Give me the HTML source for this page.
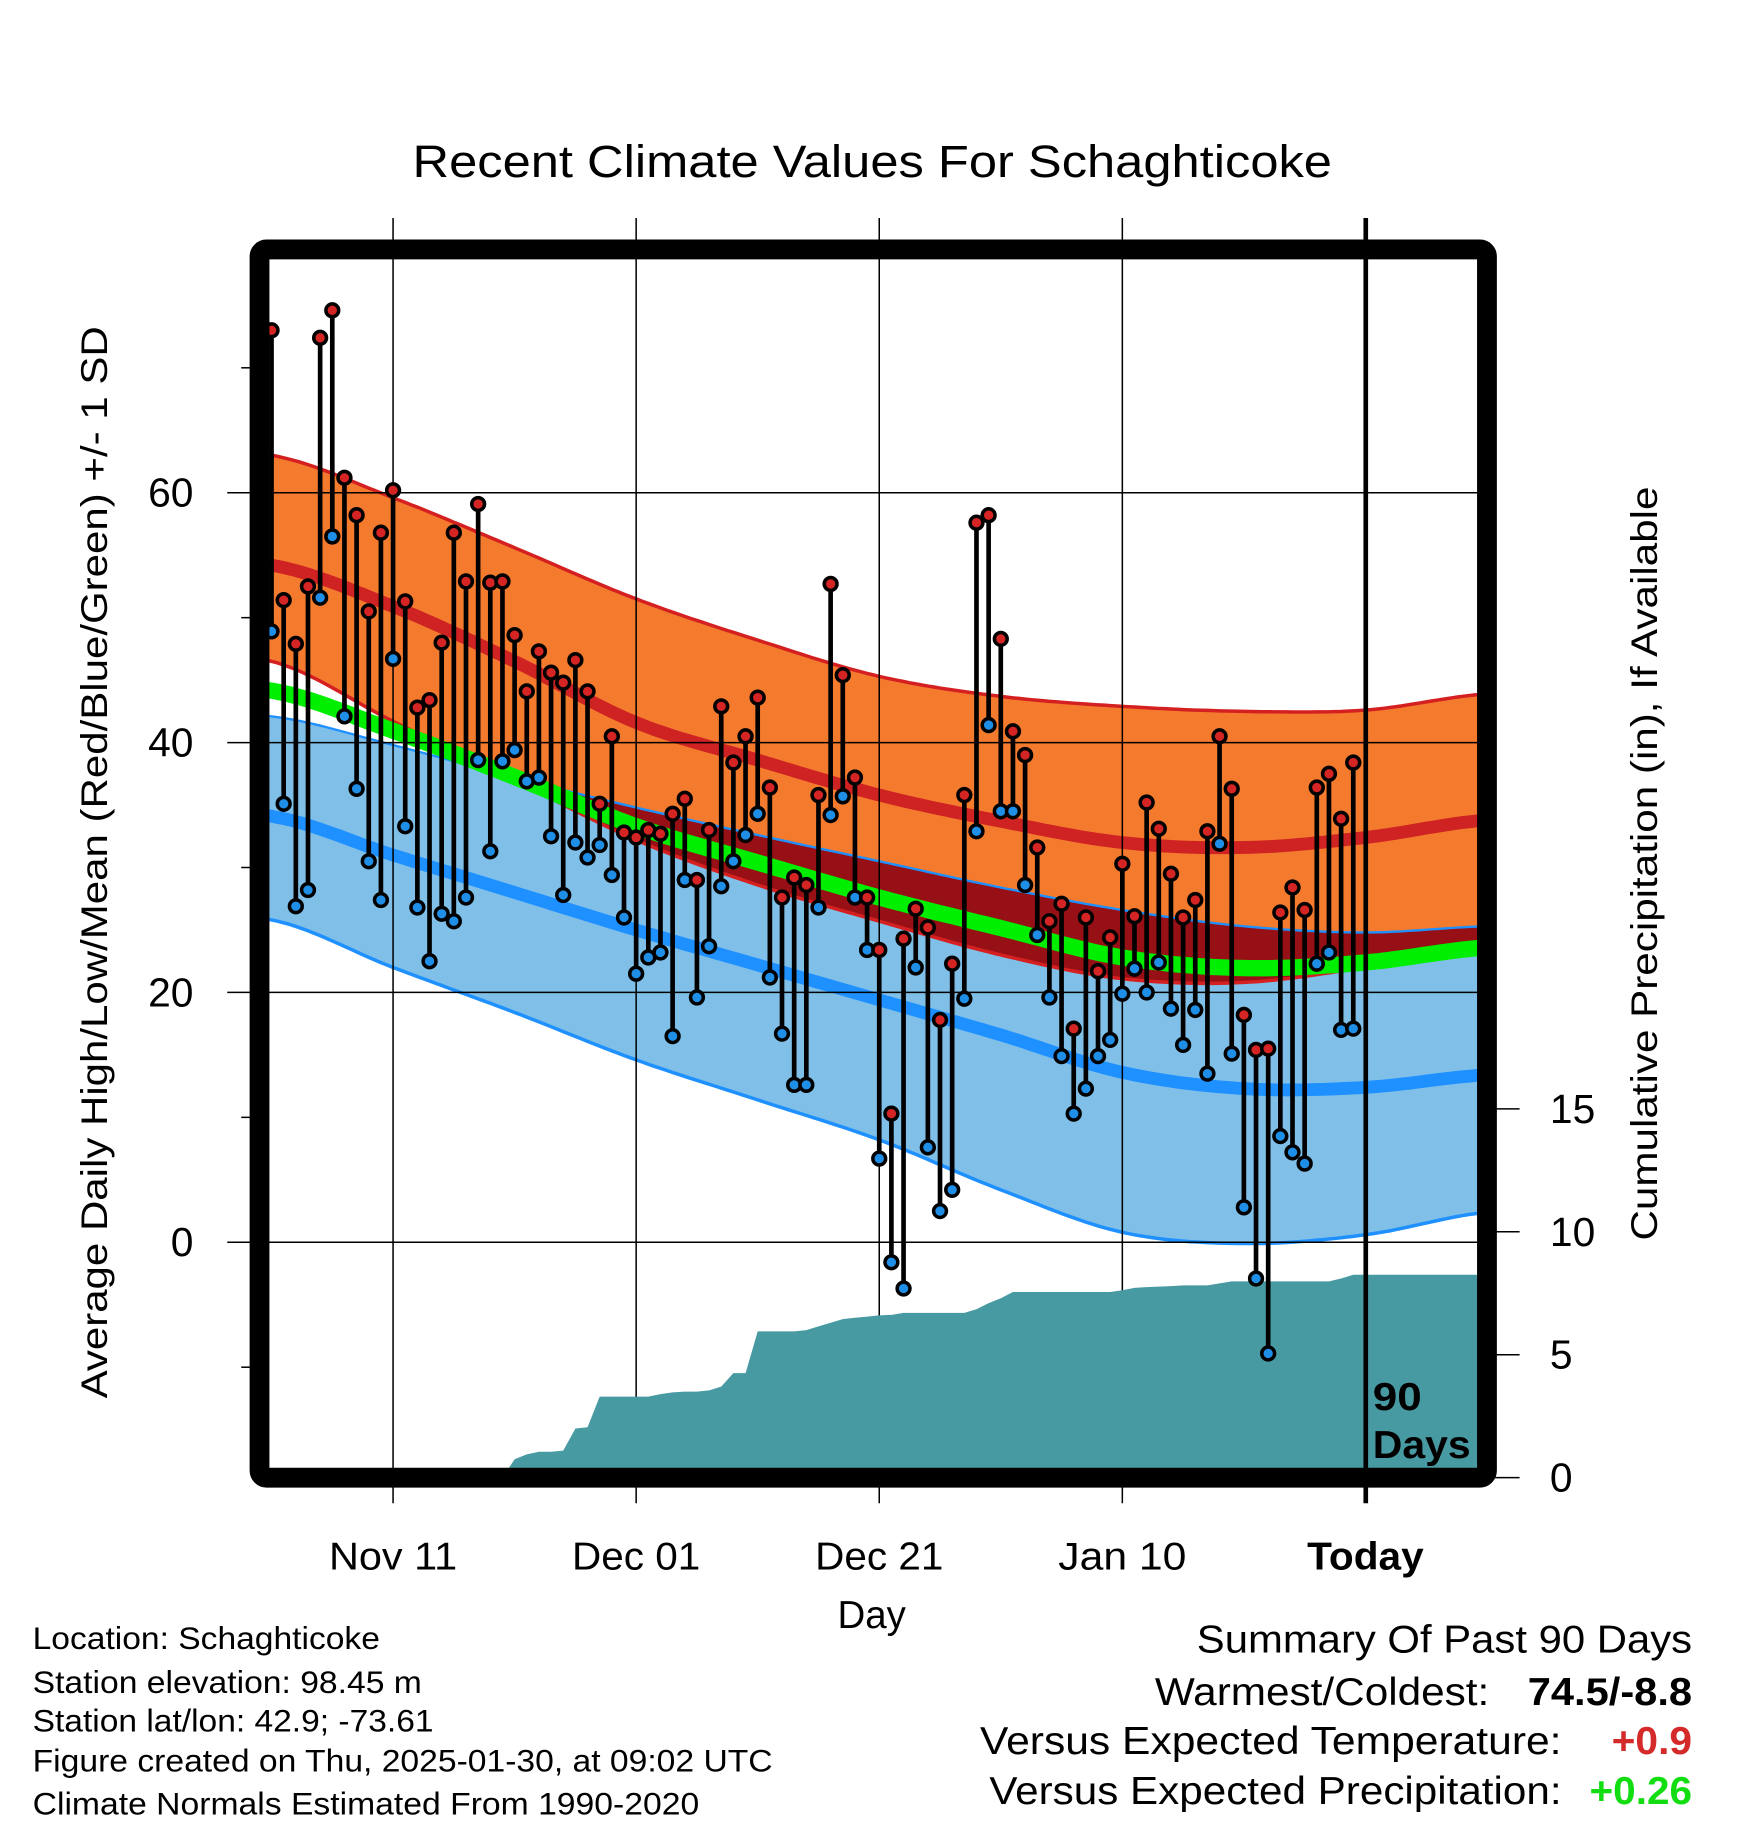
<!DOCTYPE html>
<html><head><meta charset="utf-8"><title>Recent Climate Values For Schaghticoke</title>
<style>html,body{margin:0;padding:0;background:#fff;}svg{display:block;font-family:"Liberation Sans",Arial,sans-serif;}</style>
</head><body>
<svg id="chart" xmlns="http://www.w3.org/2000/svg" width="1748" height="1828" viewBox="0 0 1500 1568.6">
<defs><clipPath id="plotclip"><rect x="231" y="222" width="1038" height="1040"/></clipPath></defs>
<rect x="0" y="0" width="1500" height="1568.6" fill="#fff"/>
<text x="354" y="152" font-size="39" textLength="789" lengthAdjust="spacingAndGlyphs">Recent Climate Values For Schaghticoke</text>
<g id="bands" clip-path="url(#plotclip)"></g>
<g id="grid"></g>
<g id="precip" clip-path="url(#plotclip)"></g>
<g id="marks"></g>
<rect x="222.7" y="214" width="1053.3" height="1054" rx="6" fill="none" stroke="#000" stroke-width="17"/>
<line x1="1172" y1="187" x2="1172" y2="1290" stroke="#000" stroke-width="4"/>
<text x="1178" y="1210" font-size="33" font-weight="bold" textLength="42" lengthAdjust="spacingAndGlyphs">90</text>
<text x="1178" y="1251" font-size="33" font-weight="bold" textLength="84" lengthAdjust="spacingAndGlyphs">Days</text>
<g id="ticklabels"></g>
<text transform="translate(92,740) rotate(-90)" font-size="32" text-anchor="middle" textLength="920" lengthAdjust="spacingAndGlyphs">Average Daily High/Low/Mean (Red/Blue/Green) +/- 1 SD</text>
<text transform="translate(1422,741) rotate(-90)" font-size="32" text-anchor="middle" textLength="647" lengthAdjust="spacingAndGlyphs">Cumulative Precipitation (in), If Available</text>
<text x="748" y="1397" font-size="33" text-anchor="middle">Day</text>
<g font-size="27">
<text x="28" y="1415" textLength="298" lengthAdjust="spacingAndGlyphs">Location: Schaghticoke</text>
<text x="28" y="1453" textLength="334" lengthAdjust="spacingAndGlyphs">Station elevation: 98.45 m</text>
<text x="28" y="1486" textLength="344" lengthAdjust="spacingAndGlyphs">Station lat/lon: 42.9; -73.61</text>
<text x="28" y="1520" textLength="635" lengthAdjust="spacingAndGlyphs">Figure created on Thu, 2025-01-30, at 09:02 UTC</text>
<text x="28" y="1557" textLength="572" lengthAdjust="spacingAndGlyphs">Climate Normals Estimated From 1990-2020</text>
</g>
<g font-size="33">
<text x="1027" y="1418" textLength="425" lengthAdjust="spacingAndGlyphs">Summary Of Past 90 Days</text>
<text x="991" y="1463" textLength="287" lengthAdjust="spacingAndGlyphs">Warmest/Coldest:</text>
<text x="1311" y="1463" font-weight="bold" textLength="141" lengthAdjust="spacingAndGlyphs">74.5/-8.8</text>
<text x="841" y="1505" textLength="499" lengthAdjust="spacingAndGlyphs">Versus Expected Temperature:</text>
<text x="1383" y="1505" font-weight="bold" fill="#d42a2a" textLength="69" lengthAdjust="spacingAndGlyphs">+0.9</text>
<text x="849" y="1548" textLength="491" lengthAdjust="spacingAndGlyphs">Versus Expected Precipitation:</text>
<text x="1364" y="1548" font-weight="bold" fill="#11dd11" textLength="88" lengthAdjust="spacingAndGlyphs">+0.26</text>
</g>
</svg>
<script>
// ---- data ----
const highs = [73.0,51.4,47.9,52.5,72.4,74.6,61.2,58.2,50.5,56.8,60.2,51.3,42.8,43.4,48.0,56.8,52.9,59.1,52.8,52.9,48.6,44.1,47.3,45.6,44.8,46.6,44.1,35.1,40.5,32.8,32.4,33.0,32.7,34.3,35.5,29.0,33.0,42.9,38.4,40.5,43.6,36.4,27.6,29.2,28.6,35.8,52.7,45.4,37.2,27.6,23.4,10.3,24.3,26.7,25.2,17.8,22.3,35.8,57.6,58.2,48.3,40.9,39.0,31.6,25.7,27.1,17.1,26.0,21.7,24.4,30.3,26.1,35.2,33.1,29.5,26.0,27.4,32.9,40.5,36.3,18.2,15.4,15.5,26.4,28.4,26.6,36.4,37.5,33.9,38.4];
const lows = [48.9,35.1,26.9,28.2,51.6,56.5,42.1,36.3,30.5,27.4,46.7,33.3,26.8,22.5,26.3,25.7,27.6,38.6,31.3,38.5,39.4,36.9,37.2,32.5,27.8,32.0,30.8,31.8,29.4,26.0,21.5,22.8,23.2,16.5,29.0,19.6,23.7,28.5,30.5,32.6,34.3,21.2,16.7,12.6,12.6,26.8,34.2,35.7,27.6,23.4,6.7,-1.6,-3.7,22.0,7.6,2.5,4.2,19.5,32.9,41.4,34.5,34.5,28.6,24.6,19.6,14.9,10.3,12.3,14.9,16.2,19.9,21.9,20.0,22.4,18.7,15.8,18.6,13.5,31.9,15.1,2.8,-2.9,-8.9,8.5,7.2,6.3,22.3,23.2,17.0,17.1];
const precipCum = [0,0,0,0,0,0,0,0,0,0,0,0,0,0,0,0,0,0,0,0,0.75,0.95,1.05,1.05,1.1,2.0,2.05,3.3,3.3,3.3,3.3,3.3,3.4,3.47,3.5,3.5,3.55,3.7,4.25,4.25,5.95,5.95,5.95,5.95,6.0,6.15,6.3,6.45,6.5,6.55,6.6,6.62,6.7,6.7,6.7,6.7,6.7,6.7,6.85,7.1,7.3,7.55,7.55,7.55,7.55,7.55,7.55,7.55,7.55,7.55,7.62,7.72,7.75,7.77,7.79,7.82,7.82,7.82,7.9,7.98,7.98,7.98,7.98,7.98,7.98,7.98,7.98,7.98,8.1,8.25];
// normals sampled every 10 days (day 0 = Nov 01)
const normDays = [0,10,20,30,40,50,60,70,80,90,100];
const hiPlus  = [63.0,59.6,55.6,51.5,48.2,45.3,43.7,42.9,42.5,42.6,43.9];
const hiMean  = [54.2,50.9,46.5,41.6,38.6,35.8,33.7,32.0,31.6,32.4,33.8];
const hiMinus = [46.5,41.7,37.0,32.2,28.6,25.7,23.0,21.1,20.8,22.0,23.5];
const loPlus  = [42.1,39.8,37.2,34.8,32.6,30.5,28.4,26.6,25.3,24.8,25.3];
const loMean  = [34.1,31.0,28.0,25.0,22.2,19.4,16.6,13.6,12.3,12.4,13.4];
const loMinus = [25.8,22.0,18.4,14.6,11.4,8.2,4.2,0.8,-0.1,0.6,2.4];
const xTickDays = [10,30,50,70,90];
const xTickLabels = ['Nov 11','Dec 01','Dec 21','Jan 10','Today'];
const yTicks = [60,40,20,0];
const yMinorTicks = [70,50,30,10,-10];
const y2Ticks = [0,5,10,15];

// ---- axes ----
const NS='http://www.w3.org/2000/svg';
function xd(d){return 233+d*10.43;}
function yt(t){return 1066-t*10.72;}
function yp(p){return 1268-p*21.1;}
function mk(tag,attrs,parent){const e=document.createElementNS(NS,tag);for(const k in attrs)e.setAttribute(k,attrs[k]);parent.appendChild(e);return e;}
function interp(arr,d){
  let i=Math.min(Math.floor(d/10),arr.length-2); if(i<0)i=0;
  const t=(d-normDays[i])/10;
  const p0=arr[Math.max(i-1,0)],p1=arr[i],p2=arr[i+1],p3=arr[Math.min(i+2,arr.length-1)];
  return 0.5*((2*p1)+(-p0+p2)*t+(2*p0-5*p1+4*p2-p3)*t*t+(-p0+3*p1-3*p2+p3)*t*t*t);
}
const steps=[];for(let d=-1;d<=100.01;d+=0.5)steps.push(d);
function linePts(arr){return steps.map(d=>xd(d).toFixed(1)+','+yt(interp(arr,d)).toFixed(1));}
function bandPts(fTop,fBot){
  const a=steps.map(d=>xd(d).toFixed(1)+','+yt(fTop(d)).toFixed(1));
  const b=steps.slice().reverse().map(d=>xd(d).toFixed(1)+','+yt(fBot(d)).toFixed(1));
  return a.concat(b).join(' ');
}
const bands=document.getElementById('bands');
let e;
e=mk('polygon',{points:bandPts(d=>interp(hiPlus,d),d=>interp(hiMinus,d)),fill:'#f47a2e'},bands);


e=mk('polygon',{points:bandPts(d=>interp(loPlus,d),d=>interp(loMinus,d)),fill:'#80c0e8'},bands);


e=mk('polygon',{points:bandPts(d=>interp(loPlus,d),d=>Math.min(interp(loPlus,d),interp(hiMinus,d))),fill:'#961016'},bands);


const lineSpecs=[
 [hiPlus,'#d42020',3,'high-plus-sd-line'],[hiMinus,'#d42020',3,'high-minus-sd-line'],
 [loPlus,'#1e90ff',2,'low-plus-sd-line'],[loMinus,'#1e90ff',3,'low-minus-sd-line'],
 [hiMean,'#cf2222',11,'mean-high-line'],[loMean,'#1e90ff',11,'mean-low-line']];
const meanArr=hiMean.map((v,i)=>(v+loMean[i])/2);
lineSpecs.forEach(s=>{
  e=mk('polyline',{points:linePts(s[0]).join(' '),fill:'none',stroke:s[1],'stroke-width':s[2]},bands);
  
  
});
e=mk('polyline',{points:linePts(meanArr).join(' '),fill:'none',stroke:'#00ee00','stroke-width':14},bands);



// ---- grid ----
const grid=document.getElementById('grid');
xTickDays.forEach((d,i)=>{
  if(i===xTickDays.length-1)return;
  e=mk('line',{x1:xd(d),y1:187,x2:xd(d),y2:1290,stroke:'#000','stroke-width':1.3},grid);
  
  
});
yTicks.forEach(t=>{
  e=mk('line',{x1:195,y1:yt(t),x2:1268,y2:yt(t),stroke:'#000','stroke-width':1.3},grid);
  
  
});
yMinorTicks.forEach(t=>{
  e=mk('line',{x1:207,y1:yt(t),x2:216,y2:yt(t),stroke:'#000','stroke-width':1.3},grid);
  
  
});
y2Ticks.forEach(p=>{
  e=mk('line',{x1:1283,y1:yp(p),x2:1304,y2:yp(p),stroke:'#000','stroke-width':1.3},grid);
  
  
});

// ---- precip ----
const pg=document.getElementById('precip');
let pts=[xd(0)+','+yp(0)];
precipCum.forEach((p,d)=>pts.push(xd(d).toFixed(1)+','+yp(p).toFixed(1)));
pts.push('1270,'+yp(precipCum[precipCum.length-1]).toFixed(1));
pts.push('1270,'+yp(0));
e=mk('polygon',{points:pts.join(' '),fill:'#489aa2'},pg);



// ---- marks ----
const mg=document.getElementById('marks');
highs.forEach((h,d)=>{
  const x=xd(d);
  e=mk('line',{x1:x,y1:yt(h),x2:x,y2:yt(lows[d]),stroke:'#000','stroke-width':4},mg);
  
  
});
highs.forEach((h,d)=>{
  const x=xd(d);
  e=mk('circle',{cx:x,cy:yt(lows[d]),r:5.5,fill:'#1e8ee6',stroke:'#000','stroke-width':3},mg);
  
  
  e=mk('circle',{cx:x,cy:yt(h),r:5.5,fill:'#d42424',stroke:'#000','stroke-width':3},mg);
  
  
});

// ---- tick labels ----
const tl=document.getElementById('ticklabels');
xTickDays.forEach((d,i)=>{
  e=mk('text',{x:xd(d),y:1347,'font-size':33,'text-anchor':'middle'},tl);
  if(i===xTickDays.length-1){e.setAttribute('font-weight','bold');e.setAttribute('textLength','100');}
  else e.setAttribute('textLength','110');
  e.setAttribute('lengthAdjust','spacingAndGlyphs');
  e.textContent=xTickLabels[i];
  
  
});
yTicks.forEach(t=>{
  e=mk('text',{x:166,y:yt(t)+12,'font-size':35,'text-anchor':'end'},tl);
  e.textContent=String(t);
  
  
});
y2Ticks.forEach(p=>{
  e=mk('text',{x:1330,y:yp(p)+12,'font-size':35},tl);
  e.textContent=String(p);
  
  
});
</script>
</body></html>
